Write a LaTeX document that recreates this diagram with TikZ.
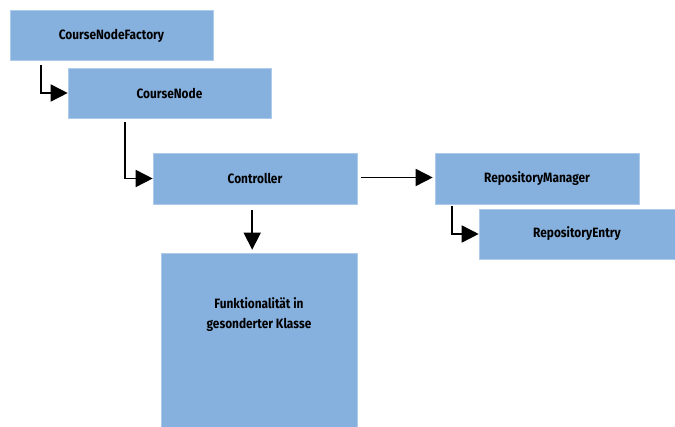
\documentclass[tikz,border=0pt]{standalone}
\usepackage{fontspec}
\setmainfont{Fira Sans}[FakeStretch=0.88]
\usetikzlibrary{arrows.meta,calc}
\definecolor{boxblue}{RGB}{134,177,222}
\definecolor{boxedge}{RGB}{175,203,234}
\begin{document}
\begin{tikzpicture}[x=1pt,y=-1pt,
  box/.style={fill=boxblue, draw=boxedge, line width=0.6pt, inner sep=0pt,
    font=\fontsize{13.5}{15}\selectfont\bfseries, align=center},
  lbl/.style={font=\fontsize{13.5}{19.5}\selectfont\bfseries, align=center, inner sep=0pt},
  conn/.style={line width=1.6pt, -{Triangle[length=17pt,width=17pt]}}]
\useasboundingbox (0,0) rectangle (675,427);
\node[box, minimum width=203pt, minimum height=50pt] (cnf) at (111.5,35.5) {CourseNodeFactory};
\node[box, minimum width=203pt, minimum height=50pt] (cn) at (169.5,93) {CourseNode};
\node[box, minimum width=204pt, minimum height=51pt] (ctrl) at (255,178.5) {Controller};
\node[box, minimum width=196pt, minimum height=174pt] (funk) at (259,340) {};
\node[lbl] (funktext) at ($(funk.north)+(0,62)$) {Funktionalität in\\gesonderter Klasse};
\node[box, minimum width=204pt, minimum height=51pt] (rm) at (537,178.5) {RepositoryManager};
\node[box, minimum width=196pt, minimum height=50pt] (re) at (577,234) {RepositoryEntry};

\draw[conn] ($(cnf.south west)+(31,4)$) |- (cn.west);
\draw[conn] ($(cn.south west)+(57,4)$) |- (ctrl.west);
\draw[conn] ($(ctrl.south west)+(99.5,6)$) -- ($(funk.north west)+(91.5,-3)$);
\draw[conn] ($(ctrl.east)+(4,-1)$) -- ($(rm.west)+(-2,-1)$);
\draw[conn] ($(rm.south west)+(17,2)$) |- (re.west);
\end{tikzpicture}
\end{document}
